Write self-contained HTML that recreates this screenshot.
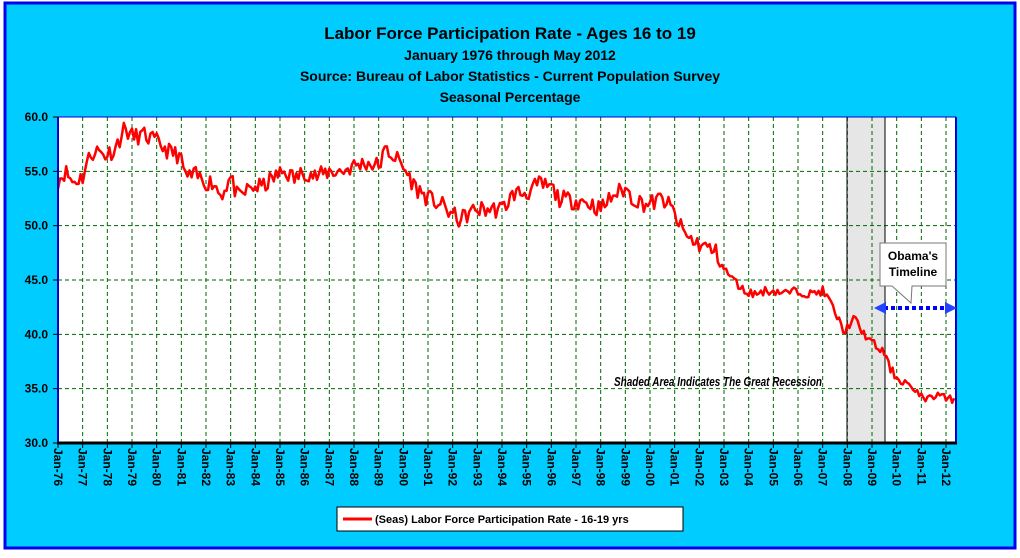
<!DOCTYPE html>
<html><head><meta charset="utf-8"><style>
body{margin:0;width:1020px;height:553px;overflow:hidden;background:#fff;font-family:"Liberation Sans",Arial,sans-serif}
</style></head><body>
<svg id="s" width="1020" height="553" xmlns="http://www.w3.org/2000/svg" font-family="Liberation Sans, Arial, sans-serif">
<rect x="0" y="0" width="1020" height="553" fill="#fff"/>
<rect x="5" y="3" width="1010" height="545" fill="#00CCFF" stroke="#0000EE" stroke-width="3"/>
<text x="510" y="39" text-anchor="middle" font-size="17" font-weight="bold">Labor Force Participation Rate - Ages 16 to 19</text>
<text x="510" y="60" text-anchor="middle" font-size="14" font-weight="bold">January 1976 through May 2012</text>
<text x="510" y="81" text-anchor="middle" font-size="14" font-weight="bold">Source: Bureau of Labor Statistics - Current Population Survey</text>
<text x="510" y="102" text-anchor="middle" font-size="14" font-weight="bold">Seasonal Percentage</text>
<rect x="58" y="117" width="898" height="326" fill="#fff"/>
<rect x="847" y="117" width="38" height="326" fill="#e6e6e6"/>
<g id="grid"></g>
<line x1="847" y1="117" x2="847" y2="443" stroke="#000" stroke-width="1"/>
<line x1="885" y1="117" x2="885" y2="443" stroke="#000" stroke-width="1"/>
<path id="series" fill="none" stroke="#ff0000" stroke-width="2.5" stroke-linejoin="round"/>
<line x1="58" y1="117" x2="58" y2="443" stroke="#0000CC" stroke-width="2"/>
<line x1="956" y1="117" x2="956" y2="443" stroke="#0000CC" stroke-width="2"/>
<line x1="58" y1="117" x2="956" y2="117" stroke="#0000CC" stroke-width="1"/>
<line x1="57" y1="443" x2="957" y2="443" stroke="#000" stroke-width="3"/>
<g id="labels" font-size="12" font-weight="bold"></g>
<text x="614" y="386" font-size="13" font-weight="bold" font-style="italic" textLength="208" lengthAdjust="spacingAndGlyphs">Shaded Area Indicates The Great Recession</text>
<path d="M880,243 H946 V286 H912 L911,303 L892,286 H880 Z" fill="#fff" stroke="#777" stroke-width="1"/>
<text x="913" y="260" text-anchor="middle" font-size="12" font-weight="bold">Obama's</text>
<text x="913" y="276" text-anchor="middle" font-size="12" font-weight="bold">Timeline</text>
<line x1="884" y1="308" x2="947" y2="308" stroke="#0000ff" stroke-width="4" stroke-dasharray="4,3"/>
<polygon points="874,308 886,302 886,314" fill="#2244ff"/>
<polygon points="957,308 945,302 945,314" fill="#2244ff"/>
<rect x="337" y="507" width="346" height="24" fill="#fff" stroke="#000" stroke-width="1"/>
<line x1="343" y1="519" x2="372" y2="519" stroke="#ff0000" stroke-width="3"/>
<text x="375" y="523" font-size="11" font-weight="bold">(Seas) Labor Force Participation Rate - 16-19 yrs</text>
</svg>
<script>
var NS="http://www.w3.org/2000/svg";
function X(t){return 58+(t-76)*24.667}
function Y(v){return 443-(v-30)*10.867}
var g=document.getElementById('grid'),lb=document.getElementById('labels');
function el(p,n,a,txt){var e=document.createElementNS(NS,n);for(var k in a)e.setAttribute(k,a[k]);if(txt)e.textContent=txt;p.appendChild(e);return e}
for(var v=35;v<60;v+=5)el(g,'line',{x1:58,x2:956,y1:Y(v),y2:Y(v),stroke:'#006600','stroke-dasharray':'4,3','stroke-width':1});
for(var y=77;y<=112;y++)el(g,'line',{x1:X(y),x2:X(y),y1:117,y2:443,stroke:'#006600','stroke-dasharray':'4,3','stroke-width':1});
for(var v=30;v<=60;v+=5){el(lb,'text',{x:48,y:Y(v)+4,'text-anchor':'end'},v.toFixed(1));el(lb,'line',{x1:53,x2:58,y1:Y(v),y2:Y(v),stroke:'#000'})}
for(var y=76;y<=112;y++){var yy=y%100,s='Jan-'+(yy<10?'0':'')+yy,x=X(y);
el(lb,'line',{x1:x,x2:x,y1:443,y2:448,stroke:'#000'});
el(lb,'text',{transform:'translate('+(x-4)+',448) rotate(90)'},s);}
var A=[[76,54.2],[76.3,55],[76.6,54],[77,54.5],[77.2,56],[77.5,57],[77.9,56.5],[78.3,57],[78.7,59],[79,58.2],[79.5,58.3],[80,57.7],[80.5,56.8],[80.9,56.5],[81.2,54.5],[81.6,54.6],[82,54],[82.3,54],[82.6,52.8],[83,54.4],[83.3,52.5],[83.8,53.5],[84.3,53.6],[84.8,54.5],[85.2,55],[85.6,54.3],[86,55],[86.5,54.5],[87,55],[87.5,55],[88,55.5],[88.5,55.8],[89,55.5],[89.3,57],[89.8,56],[90.1,55],[90.5,53.5],[91,52.5],[91.5,52],[92,51],[92.3,50.5],[92.7,51.2],[93,51.5],[93.5,51.5],[94,51.5],[94.5,53],[95,53],[95.5,53.8],[96,53.5],[96.3,52.5],[96.8,52.3],[97.2,52.3],[97.6,52],[98,51.5],[98.5,52.8],[99,53.4],[99.3,52.5],[99.8,52],[100,52],[100.5,52.5],[100.9,51.5],[101.2,50],[101.5,49],[101.8,48.5],[102.3,48],[102.7,47.5],[103,46],[103.4,45],[103.8,44],[104.3,43.7],[104.6,44],[105,44],[105.5,43.8],[106,44],[106.5,43.7],[107,44],[107.3,43],[107.6,41.5],[107.9,40.2],[108.1,41],[108.3,41.5],[108.5,40.5],[108.9,39.5],[109.2,38.8],[109.5,38.3],[109.7,37],[110,36],[110.3,35.6],[110.5,35.5],[110.7,34.5],[111,34.5],[111.3,34],[111.6,34.5],[111.9,34.5],[112,33.8],[112.35,34.2]];
var seed=11;function r(){seed=(seed*16807)%2147483647;return seed/2147483647-0.5}
var d='',j=0;
for(var m=0;m<=436;m++){var t=76+m/12;while(j<A.length-2&&A[j+1][0]<t)j++;
var a=A[j],b=A[j+1],f=Math.max(0,Math.min(1,(t-a[0])/(b[0]-a[0])));
var v=a[1]+(b[1]-a[1])*f+r()*1.6*(t>103?0.5:1);
d+=(m?'L':'M')+X(t).toFixed(1)+','+Y(v).toFixed(1);}
document.getElementById('series').setAttribute('d',d);
</script>
</body></html>
